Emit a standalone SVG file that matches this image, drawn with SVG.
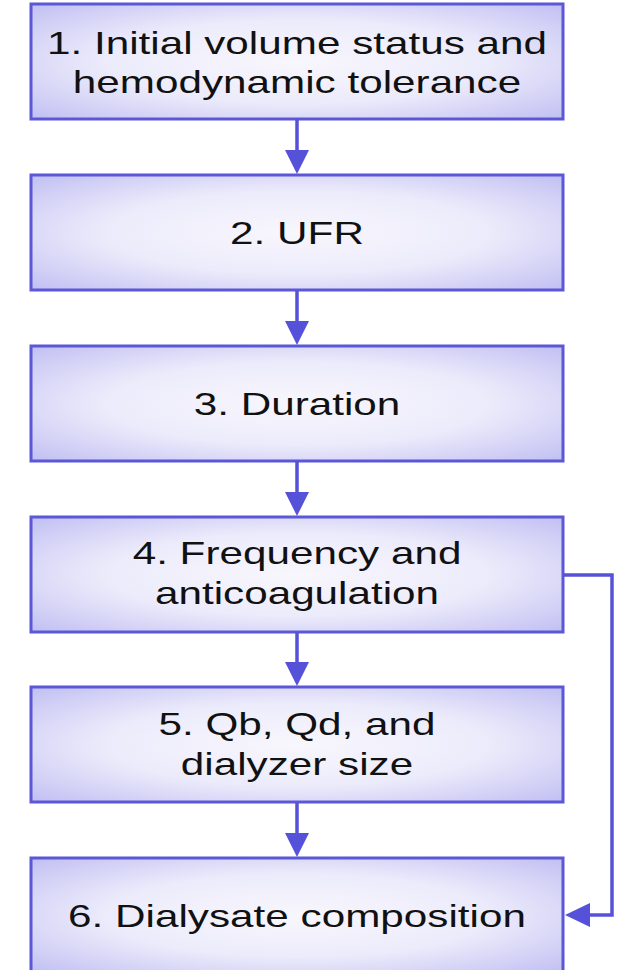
<svg xmlns="http://www.w3.org/2000/svg" width="621" height="970" viewBox="0 0 621 970">
<defs>
<radialGradient id="g" cx="50%" cy="50%" r="72%">
<stop offset="0" stop-color="#f8f7fd"/>
<stop offset="0.5" stop-color="#ecebfb"/>
<stop offset="1" stop-color="#bfbdf2"/>
</radialGradient>
</defs>
<style>
.box{fill:url(#g);stroke:#5b57d6;stroke-width:3}
.t{font-family:"Liberation Sans",Arial,sans-serif;font-size:32px;fill:#111;text-anchor:middle}
.c{fill:none;stroke:#5552d9;stroke-width:3.5}
.h{fill:#5552d9}
</style>
<rect width="621" height="970" fill="#fff"/>
<g id="n1"><rect class="box" x="31" y="4" width="532" height="115"/><g transform="translate(297 0) scale(1.32 1)"><text class="t" x="0" y="54">1. Initial volume status and</text><text class="t" x="0" y="93">hemodynamic tolerance</text></g></g>
<g id="n2"><rect class="box" x="31" y="175" width="532" height="115"/><g transform="translate(297 0) scale(1.32 1)"><text class="t" x="0" y="244">2. UFR</text></g></g>
<g id="n3"><rect class="box" x="31" y="346" width="532" height="115"/><g transform="translate(297 0) scale(1.32 1)"><text class="t" x="0" y="415">3. Duration</text></g></g>
<g id="n4"><rect class="box" x="31" y="517" width="532" height="115"/><g transform="translate(297 0) scale(1.32 1)"><text class="t" x="0" y="564">4. Frequency and</text><text class="t" x="0" y="604">anticoagulation</text></g></g>
<g id="n5"><rect class="box" x="31" y="687" width="532" height="115"/><g transform="translate(297 0) scale(1.32 1)"><text class="t" x="0" y="735">5. Qb, Qd, and</text><text class="t" x="0" y="775">dialyzer size</text></g></g>
<g id="n6"><rect class="box" x="31" y="858" width="532" height="115"/><g transform="translate(297 0) scale(1.32 1)"><text class="t" x="0" y="927">6. Dialysate composition</text></g></g>
<g id="connectors">
<line class="c" x1="297" y1="119" x2="297" y2="152"/><path class="h" d="M285,150 L309,150 L297,174 Z"/>
<line class="c" x1="297" y1="290" x2="297" y2="323"/><path class="h" d="M285,321 L309,321 L297,345 Z"/>
<line class="c" x1="297" y1="461" x2="297" y2="494"/><path class="h" d="M285,492 L309,492 L297,516 Z"/>
<line class="c" x1="297" y1="632" x2="297" y2="664"/><path class="h" d="M285,662 L309,662 L297,686 Z"/>
<line class="c" x1="297" y1="802" x2="297" y2="835"/><path class="h" d="M285,833 L309,833 L297,857 Z"/>
<polyline class="c" points="563,575 612,575 612,915 588,915"/><path class="h" d="M590,903 L590,927 L565,915 Z"/>
</g>
</svg>
